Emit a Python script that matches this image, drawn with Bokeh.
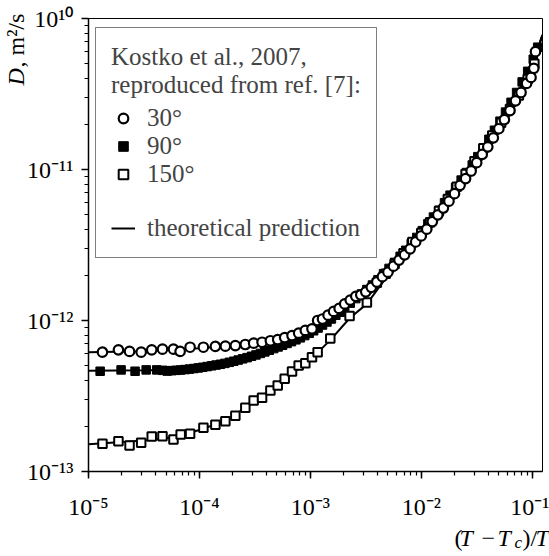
import numpy as np
from bokeh.plotting import figure
from bokeh.models import Range1d, Legend, LegendItem, CustomJSTickFormatter
from bokeh.core.properties import value
from bokeh.embed import file_html
from bokeh.resources import INLINE

# ---------------- data (log10 values) ----------------
# 30 deg (open circles)
c30_logt = [-4.874, -4.73, -4.63, -4.525, -4.43, -4.333, -4.234, -4.174, -4.084, -3.964,
            -3.856, -3.766, -3.676, -3.586, -3.511, -3.435, -3.36, -3.294, -3.231, -3.165,
            -3.105, -3.045, -2.985, -2.934, -2.89, -2.84, -2.79, -2.74, -2.69, -2.64,
            -2.59, -2.545, -2.50, -2.45, -2.40, -2.35, -2.30, -2.25, -2.20, -2.15,
            -2.10, -2.05, -2.00, -1.95, -1.90, -1.85, -1.80, -1.75, -1.70, -1.65,
            -1.60, -1.55, -1.50, -1.45, -1.40, -1.35, -1.30, -1.25, -1.20, -1.15,
            -1.10, -1.05, -1.01, -0.985, -0.97]
c30_logD = [-12.21, -12.194, -12.205, -12.21, -12.194, -12.19, -12.19, -12.205, -12.177, -12.177,
            -12.172, -12.17, -12.166, -12.159, -12.15, -12.144, -12.134, -12.126, -12.113, -12.1,
            -12.084, -12.066, -12.055, -12.0, -11.99, -11.965, -11.94, -11.92, -11.89, -11.865,
            -11.84, -11.83, -11.81, -11.78, -11.745, -11.71, -11.68, -11.64, -11.60, -11.565,
            -11.525, -11.48, -11.44, -11.395, -11.345, -11.3, -11.255, -11.21, -11.16, -11.105,
            -11.06, -11.01, -10.955, -10.9, -10.85, -10.79, -10.73, -10.67, -10.61, -10.545,
            -10.49, -10.43, -10.39, -10.33, -10.22]

# 90 deg (filled squares)
f90_logt = [-4.895, -4.706, -4.58, -4.48, -4.385, -4.33, -4.29, -4.25, -4.21, -4.17,
            -4.13, -4.09, -4.05, -4.01, -3.97, -3.93, -3.89, -3.85, -3.81, -3.77,
            -3.73, -3.69, -3.65, -3.61, -3.57, -3.53, -3.49, -3.45, -3.41, -3.37,
            -3.33, -3.29, -3.25, -3.21, -3.17, -3.13, -3.09, -3.05, -3.01, -2.97,
            -2.93, -2.89, -2.85, -2.81, -2.77, -2.73, -2.69, -2.64, -2.59, -2.54,
            -2.49, -2.44, -2.39, -2.34, -2.29, -2.24, -2.19, -2.14, -2.09, -2.04,
            -1.99, -1.94, -1.89, -1.84, -1.79, -1.74, -1.69, -1.64, -1.59, -1.54,
            -1.49, -1.44, -1.39, -1.34, -1.29, -1.24, -1.19, -1.14, -1.09, -1.04,
            -0.99, -0.95]
f90_logD = [-12.336, -12.327, -12.336, -12.327, -12.327, -12.33, -12.335, -12.332, -12.33, -12.328,
            -12.325, -12.322, -12.318, -12.314, -12.31, -12.305, -12.3, -12.295, -12.29, -12.284,
            -12.277, -12.27, -12.262, -12.254, -12.246, -12.237, -12.228, -12.218, -12.208, -12.197,
            -12.186, -12.175, -12.164, -12.152, -12.14, -12.128, -12.115, -12.1, -12.085, -12.068,
            -12.05, -12.03, -12.01, -11.99, -11.965, -11.945, -11.92, -11.885, -11.855, -11.825,
            -11.795, -11.765, -11.73, -11.69, -11.655, -11.615, -11.575, -11.535, -11.49, -11.45,
            -11.405, -11.36, -11.315, -11.27, -11.22, -11.17, -11.12, -11.07, -11.02, -10.97,
            -10.915, -10.86, -10.8, -10.74, -10.68, -10.62, -10.555, -10.49, -10.42, -10.35,
            -10.27, -10.19]

# 150 deg (open squares)
o150_logt = [-4.874, -4.73, -4.63, -4.525, -4.43, -4.333, -4.234, -4.169, -4.084, -3.964,
             -3.856, -3.766, -3.676, -3.586, -3.511, -3.435, -3.36, -3.294, -3.231, -3.165,
             -3.105, -3.045, -2.985, -2.934, -2.82, -2.646, -2.49, -2.40, -2.32, -2.24,
             -2.16, -2.08, -2.00, -1.92, -1.84, -1.76, -1.68, -1.60, -1.52, -1.44,
             -1.36, -1.28, -1.20, -1.12, -1.04, -0.98]
o150_logD = [-12.817, -12.80, -12.828, -12.81, -12.768, -12.766, -12.788, -12.755, -12.75, -12.71,
             -12.69, -12.667, -12.63, -12.578, -12.53, -12.512, -12.464, -12.43, -12.386, -12.338,
             -12.298, -12.283, -12.243, -12.21, -12.12, -11.97, -11.88, -11.75, -11.69, -11.625,
             -11.555, -11.48, -11.42, -11.35, -11.275, -11.195, -11.115, -11.03, -10.945, -10.86,
             -10.775, -10.69, -10.6, -10.51, -10.4, -10.3]

# theoretical predictions
th30_logt = [-5.0, -4.5, -4.0, -3.5, -3.25, -3.0, -2.75, -2.5, -2.25, -2.0, -1.75, -1.5, -1.25, -1.0, -0.907]
th30_logD = [-12.21, -12.203, -12.183, -12.153, -12.122, -12.068, -11.935, -11.815, -11.645, -11.44,
             -11.21, -10.955, -10.67, -10.31, -10.11]
th90_logt = [-5.0, -4.5, -4.25, -4.0, -3.75, -3.5, -3.25, -3.0, -2.75, -2.5, -2.25, -2.0, -1.75,
             -1.5, -1.25, -1.0, -0.907]
th90_logD = [-12.333, -12.33, -12.328, -12.312, -12.282, -12.232, -12.165, -12.085, -11.955, -11.815,
             -11.645, -11.44, -11.21, -10.955, -10.67, -10.31, -10.11]
th150_logt = [-5.0, -4.5, -4.25, -4.0, -3.75, -3.5, -3.25, -3.0, -2.82, -2.646, -2.49, -2.25, -2.0,
              -1.75, -1.5, -1.25, -1.0, -0.907]
th150_logD = [-12.82, -12.795, -12.775, -12.725, -12.66, -12.535, -12.4, -12.26, -12.13, -11.985,
              -11.89, -11.65, -11.44, -11.21, -10.955, -10.67, -10.31, -10.11]

# axes
x_tick_exps = [-5, -4, -3, -2, -1]
x_tick_labels = ["10⁻⁵", "10⁻⁴", "10⁻³", "10⁻²", "10⁻¹"]
y_tick_exps = [-13, -12, -11, -10]
y_tick_labels = ["10⁻¹³", "10⁻¹²", "10⁻¹¹", "10¹⁰"]
x_lo, x_hi = 1e-5, 0.124
y_lo, y_hi = 1e-13, 1e-10

legend_title = "Kostko et al., 2007,\nreproduced from ref. [7]:"
legend_labels = ["30°", "90°", "150°", " ", "theoretical prediction"]


def lin(v):
    return (10.0 ** np.asarray(v, dtype=float)).tolist()


FONT = "Liberation Serif"

# ---------------- geometry ----------------
W, H = 549, 556
BL, BR, BT, BB = 88, 7, 18, 85
FW, FH = W - BL - BR, H - BT - BB

p = figure(width=W, height=H, x_axis_type="log", y_axis_type="log",
           x_range=Range1d(x_lo, x_hi), y_range=Range1d(y_lo, y_hi),
           output_backend="svg", toolbar_location=None,
           min_border_left=BL, min_border_right=BR, min_border_top=BT, min_border_bottom=BB,
           background_fill_color="white", border_fill_color="white")

p.xgrid.visible = False
p.ygrid.visible = False
p.outline_line_color = "black"
p.outline_line_width = 1

fmt_js = """
const e = Math.round(Math.log10(tick));
const i = exps.indexOf(e);
return i >= 0 ? labels[i] : "";
"""
p.xaxis.formatter = CustomJSTickFormatter(args=dict(exps=x_tick_exps, labels=x_tick_labels), code=fmt_js)
p.yaxis.formatter = CustomJSTickFormatter(args=dict(exps=y_tick_exps, labels=y_tick_labels), code=fmt_js)

for ax in (p.xaxis[0], p.yaxis[0]):
    ax.axis_line_width = 1.5
    ax.axis_line_color = "black"
    ax.major_tick_in = 0
    ax.major_tick_out = 7
    ax.minor_tick_in = 0
    ax.minor_tick_out = 4
    ax.major_tick_line_width = 1.5
    ax.minor_tick_line_width = 1.2
    ax.major_tick_line_color = "black"
    ax.minor_tick_line_color = "black"
    ax.major_label_text_font = FONT
    ax.major_label_text_font_size = "24px"
    ax.major_label_text_color = "black"
p.xaxis.major_label_standoff = 15
p.yaxis.major_label_standoff = 8

# theory lines
l30 = p.line(lin(th30_logt), lin(th30_logD), line_color="black", line_width=2)
p.line(lin(th90_logt), lin(th90_logD), line_color="black", line_width=2)
p.line(lin(th150_logt), lin(th150_logD), line_color="black", line_width=2)

# data markers
r90 = p.scatter(lin(f90_logt), lin(f90_logD), marker="square", size=8.5,
                fill_color="black", line_color="black", line_width=1)
r150 = p.scatter(lin(o150_logt), lin(o150_logD), marker="square", size=8.5,
                 fill_color="white", line_color="black", line_width=2)
r30 = p.scatter(lin(c30_logt), lin(c30_logD), marker="circle", size=9.5,
                fill_color="white", line_color="black", line_width=2.2)
blank = p.scatter([], [], marker="circle", size=1, fill_alpha=0, line_alpha=0)

legend = Legend(items=[LegendItem(label=legend_labels[0], renderers=[r30]),
                       LegendItem(label=legend_labels[1], renderers=[r90]),
                       LegendItem(label=legend_labels[2], renderers=[r150]),
                       LegendItem(label=legend_labels[3], renderers=[blank]),
                       LegendItem(label=legend_labels[4], renderers=[l30])],
                location=(7, 213), title=legend_title,
                border_line_color="black", border_line_width=1,
                padding=15, spacing=0, label_height=26, glyph_height=26, glyph_width=24,
                label_standoff=12, title_standoff=5, margin=0,
                label_text_font=FONT, label_text_font_size="25px",
                title_text_font=FONT, title_text_font_size="25px",
                title_text_font_style="normal", background_fill_alpha=1)
p.add_layout(legend, "center")


# ---------------- axis titles (text glyphs at overlay level, placed by page pixel) ----------------
def page_to_data(X, Y):
    lx0, lx1 = np.log10(x_lo), np.log10(x_hi)
    ly0, ly1 = np.log10(y_lo), np.log10(y_hi)
    x = 10 ** (lx0 + (X - BL) / FW * (lx1 - lx0))
    y = 10 ** (ly0 + (BT + FH - Y) / FH * (ly1 - ly0))
    return x, y


def put_text(txt, X, Y, style="normal", size="24px", angle=0.0):
    x, y = page_to_data(X, Y)
    p.text(x=[x], y=[y], text=[txt], angle=angle, level="overlay",
           text_font=value(FONT), text_font_style=style, text_font_size=size,
           text_color="black", text_baseline="alphabetic", text_align="left")


# y axis title: D, m²/s (rotated, reading upward)
put_text("D", 15, 85, style="italic", angle=np.pi / 2)
put_text(", m²/s", 15, 67, angle=np.pi / 2)

# x axis title: (T − Tc)/T
put_text("(", 454, 537.5)
put_text("T", 459, 537.5, style="italic")
put_text("−", 481, 537.5)
put_text("T", 497, 537.5, style="italic")
put_text("c", 514, 541.5, style="italic", size="17px")
put_text(")/", 522, 537.5)
put_text("T", 535, 537.5, style="italic")

open("out.html", "w").write(file_html(p, INLINE))
